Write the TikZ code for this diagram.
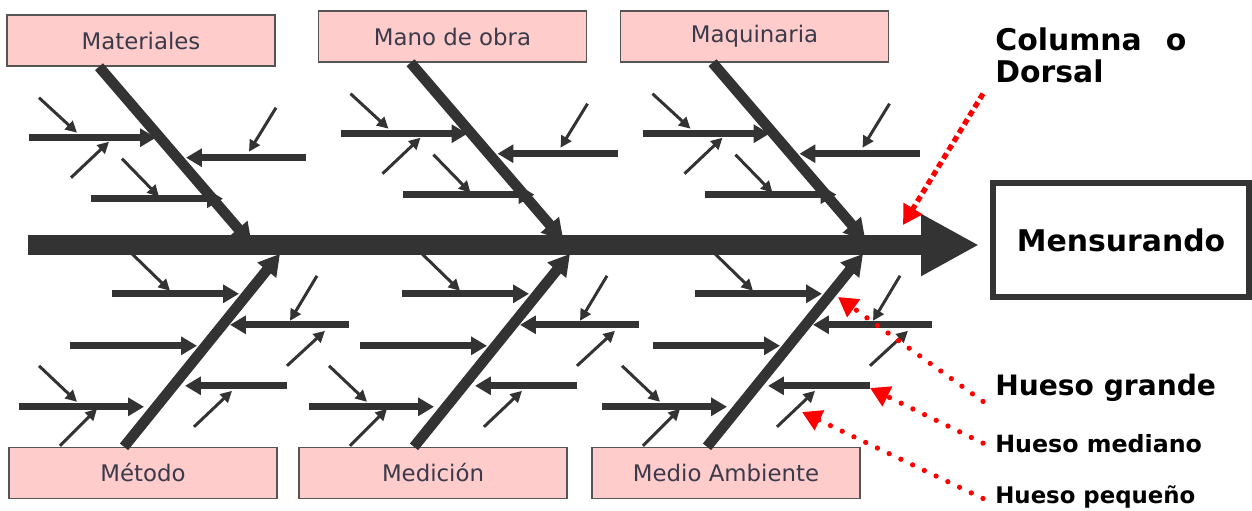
\documentclass[tikz,border=0pt]{standalone}
\usepackage{fontspec}
\setmainfont{DejaVu Sans}
\usetikzlibrary{arrows.meta}

\definecolor{bone}{HTML}{333333}
\definecolor{boxpink}{HTML}{FFCCCC}
\definecolor{boxline}{HTML}{555555}
\definecolor{cattext}{HTML}{3A3A4A}

\begin{document}
\begin{tikzpicture}[x=0.2mm, y=-0.2mm,
    catbox/.style={draw=boxline, line width=0.8pt, fill=boxpink, minimum width=53.6mm, minimum height=10.2mm, inner sep=0pt, text=cattext, font=\fontsize{13}{15}\selectfont},
    spine/.style={draw=bone, line width=11.5pt, -{Triangle[length=33pt,width=33pt]}},
    bigbone/.style={draw=bone, line width=6pt, -{Triangle[length=12pt,width=13pt]}},
    midbone/.style={draw=bone, line width=4pt, -{Triangle[length=9pt,width=10pt]}},
    smallbone/.style={draw=bone, line width=1.7pt, -{Triangle[length=6.5pt,width=6.5pt]}},
    tag/.style={anchor=base west, inner xsep=2.4mm, inner ysep=0pt, text=black},
    hint/.style={draw=red, line width=3pt, line cap=round, dash pattern=on 0pt off 7.4pt, -{Triangle[length=11pt,width=12pt]}},
    upribs/.pic={
        \draw[bigbone] (-42,0) -- (111,178);
        \draw[midbone] (-112,71) -- (15,71);
        \draw[midbone] (165,91) -- (45,91);
        \draw[midbone] (-50,132) -- (82,132);
        \draw[smallbone] (-102,31) -- (-64,66);
        \draw[smallbone] (-70,111) -- (-32,75);
        \draw[smallbone] (135,41) -- (108,85);
        \draw[smallbone] (-19,92) -- (18,130);
    },
    lowribs/.pic={
        \draw[bigbone] (-19,0) -- (137,-193);
        \draw[midbone] (-31,-153) -- (96,-153);
        \draw[midbone] (206,-122) -- (87,-122);
        \draw[midbone] (-73,-101) -- (54,-101);
        \draw[midbone] (144,-61) -- (42,-61);
        \draw[midbone] (-124,-40) -- (1,-40);
        \draw[smallbone] (-11,-193) -- (27,-156);
        \draw[smallbone] (174,-171) -- (147,-126);
        \draw[smallbone] (144,-81) -- (182,-116);
        \draw[smallbone] (51,-20) -- (89,-56);
        \draw[smallbone] (-104,-81) -- (-66,-45);
        \draw[smallbone] (-83,-1) -- (-46,-38);
    }]

    \useasboundingbox (0,0) rectangle (1252,510);

    % Effect box
    \node[draw=bone, line width=1.2mm, minimum width=51.2mm, minimum height=22.8mm, inner sep=0pt,
          font=\bfseries\fontsize{17}{20}\selectfont] (mens) at (1121,240) {Mensurando};

    % Cause boxes
    \node[catbox] (mat) at (141,40.5) {Materiales};
    \node[catbox] (mano) at (452.5,36.5) {Mano de obra};
    \node[catbox] (maq) at (754.5,36.5) {Maquinaria};
    \node[catbox] (met) at (143,473) {Método};
    \node[catbox] (medc) at (433,473) {Medición};
    \node[catbox] (medio) at (726,473) {Medio Ambiente};

    % Spine
    \coordinate (tail) at (28,245);
    \draw[spine, shorten >=2.2mm] (tail) -- (tail -| mens.west);

    % Bones
    \pic at (mat.south) {upribs};
    \pic at (mano.south) {upribs};
    \pic at (maq.south) {upribs};
    \pic at (met.north) {lowribs};
    \pic at (medc.north) {lowribs};
    \pic at (medio.north) {lowribs};

    % Legend labels
    \node[tag, anchor=north west, align=left, font=\bfseries\fontsize{17}{18.7}\selectfont]
        (dorsal) at (983,27) {Columna\hspace{0.8em}o\\Dorsal};
    \node[tag, font=\bfseries\fontsize{16}{18}\selectfont] (grande) at (983,395) {Hueso grande};
    \node[tag, font=\bfseries\fontsize{13.5}{16}\selectfont] (mediano) at (983,452) {Hueso mediano};
    \node[tag, font=\bfseries\fontsize{13}{15}\selectfont] (pequeno) at (983,503) {Hueso pequeño};

    % Red pointers
    \coordinate (pdorsal) at (903,225);
    \coordinate (pgrande) at (838,297);
    \coordinate (pmediano) at (870,388);
    \coordinate (ppequeno) at (802,412);
    \draw[hint, line cap=butt, dash pattern=on 3.4pt off 2.3pt] ([yshift=-2mm]dorsal.south west) -- (pdorsal);
    \draw[hint] (grande.south west) -- (pgrande);
    \draw[hint] (mediano.west) -- (pmediano);
    \draw[hint] ([yshift=-0.4mm]pequeno.west) -- (ppequeno);

\end{tikzpicture}
\end{document}
